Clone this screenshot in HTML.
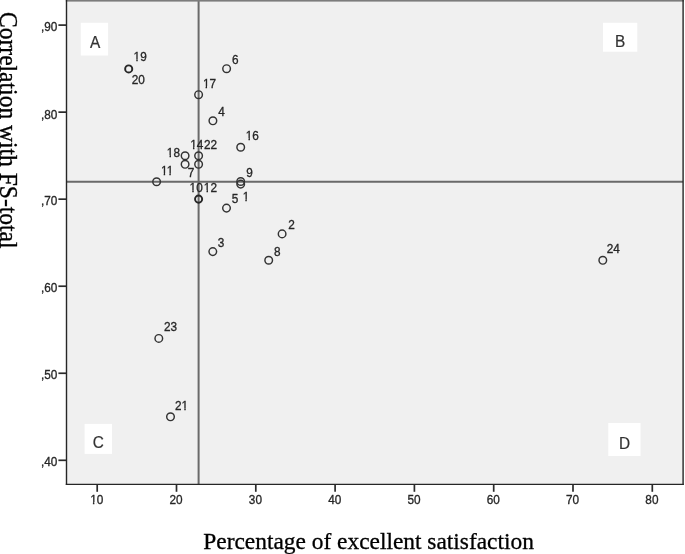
<!DOCTYPE html><html><head><meta charset="utf-8"><title>Scatter plot</title>
<style>html,body{margin:0;padding:0;background:#fff;}svg{display:block;will-change:transform;transform:translateZ(0)}.s{font-family:"Liberation Sans",Arial,sans-serif;font-size:11.8px;fill:#262626;stroke:#262626;stroke-width:0.3px}.q{font-family:"Liberation Sans",Arial,sans-serif;font-size:15.4px;fill:#333;stroke:#333;stroke-width:0.2px}.t{font-family:"Liberation Serif","Times New Roman",serif;fill:#000;stroke:#000;stroke-width:0.3px}</style></head><body>
<svg width="685" height="554" viewBox="0 0 685 554">
<rect x="0" y="0" width="685" height="554" fill="#fff"/>
<rect x="66" y="0" width="617.5" height="484.4" fill="#f0f0f0"/>
<rect x="80.8" y="22.8" width="27.3" height="32.7" fill="#fff"/>
<rect x="603.0" y="22.8" width="34.3" height="28.9" fill="#fff"/>
<rect x="84.6" y="423.9" width="27.4" height="30.0" fill="#fff"/>
<rect x="608.3" y="423.0" width="32.2" height="33.0" fill="#fff"/>
<line x1="198.6" y1="0" x2="198.6" y2="484" stroke="#6a6a6a" stroke-width="2"/>
<line x1="66" y1="181.7" x2="683" y2="181.7" stroke="#6a6a6a" stroke-width="2"/>
<rect x="65.8" y="0" width="618" height="1.6" fill="#7c7c7c"/>
<line x1="66.5" y1="0" x2="66.5" y2="485.05" stroke="#262626" stroke-width="1.4"/>
<line x1="65.8" y1="484.35" x2="683.8" y2="484.35" stroke="#262626" stroke-width="1.4"/>
<line x1="683.1" y1="0" x2="683.1" y2="485.05" stroke="#262626" stroke-width="1.4"/>
<line x1="58.4" y1="25.10" x2="66" y2="25.10" stroke="#2a2a2a" stroke-width="1.7"/>
<text class="s" transform="translate(57.4,31.20) scale(1,1.07)" text-anchor="end">,90</text>
<line x1="58.4" y1="112.14" x2="66" y2="112.14" stroke="#2a2a2a" stroke-width="1.7"/>
<text class="s" transform="translate(57.4,118.74) scale(1,1.07)" text-anchor="end">,80</text>
<line x1="58.4" y1="199.18" x2="66" y2="199.18" stroke="#2a2a2a" stroke-width="1.7"/>
<text class="s" transform="translate(57.4,205.28) scale(1,1.07)" text-anchor="end">,70</text>
<line x1="58.4" y1="286.22" x2="66" y2="286.22" stroke="#2a2a2a" stroke-width="1.7"/>
<text class="s" transform="translate(57.4,292.32) scale(1,1.07)" text-anchor="end">,60</text>
<line x1="58.4" y1="373.26" x2="66" y2="373.26" stroke="#2a2a2a" stroke-width="1.7"/>
<text class="s" transform="translate(57.4,379.36) scale(1,1.07)" text-anchor="end">,50</text>
<line x1="58.4" y1="460.30" x2="66" y2="460.30" stroke="#2a2a2a" stroke-width="1.7"/>
<text class="s" transform="translate(57.4,466.40) scale(1,1.07)" text-anchor="end">,40</text>
<line x1="97.20" y1="484.5" x2="97.20" y2="491.8" stroke="#2a2a2a" stroke-width="1.7"/>
<text class="s" transform="translate(96.80,504) scale(1,1.07)" text-anchor="middle">10</text>
<rect x="89.64" y="502" width="3.25" height="3" fill="#fff"/>
<rect x="94.39" y="502" width="2.40" height="3" fill="#fff"/>
<line x1="176.50" y1="484.5" x2="176.50" y2="491.8" stroke="#2a2a2a" stroke-width="1.7"/>
<text class="s" transform="translate(176.10,504) scale(1,1.07)" text-anchor="middle">20</text>
<line x1="255.80" y1="484.5" x2="255.80" y2="491.8" stroke="#2a2a2a" stroke-width="1.7"/>
<text class="s" transform="translate(255.40,504) scale(1,1.07)" text-anchor="middle">30</text>
<line x1="335.10" y1="484.5" x2="335.10" y2="491.8" stroke="#2a2a2a" stroke-width="1.7"/>
<text class="s" transform="translate(334.70,504) scale(1,1.07)" text-anchor="middle">40</text>
<line x1="414.40" y1="484.5" x2="414.40" y2="491.8" stroke="#2a2a2a" stroke-width="1.7"/>
<text class="s" transform="translate(414.00,504) scale(1,1.07)" text-anchor="middle">50</text>
<line x1="493.70" y1="484.5" x2="493.70" y2="491.8" stroke="#2a2a2a" stroke-width="1.7"/>
<text class="s" transform="translate(493.30,504) scale(1,1.07)" text-anchor="middle">60</text>
<line x1="573.00" y1="484.5" x2="573.00" y2="491.8" stroke="#2a2a2a" stroke-width="1.7"/>
<text class="s" transform="translate(572.60,504) scale(1,1.07)" text-anchor="middle">70</text>
<line x1="652.30" y1="484.5" x2="652.30" y2="491.8" stroke="#2a2a2a" stroke-width="1.7"/>
<text class="s" transform="translate(651.90,504) scale(1,1.07)" text-anchor="middle">80</text>
<circle cx="128.7" cy="68.9" r="3.55" fill="none" stroke="#262626" stroke-width="1.95"/>
<circle cx="226.6" cy="68.7" r="3.8" fill="none" stroke="#333" stroke-width="1.45"/>
<circle cx="198.6" cy="94.7" r="3.8" fill="none" stroke="#333" stroke-width="1.45"/>
<circle cx="212.9" cy="120.8" r="3.8" fill="none" stroke="#333" stroke-width="1.45"/>
<circle cx="240.7" cy="147.2" r="3.8" fill="none" stroke="#333" stroke-width="1.45"/>
<circle cx="198.6" cy="155.7" r="3.8" fill="none" stroke="#333" stroke-width="1.45"/>
<circle cx="198.6" cy="164.3" r="3.8" fill="none" stroke="#333" stroke-width="1.45"/>
<circle cx="185.1" cy="155.7" r="3.8" fill="none" stroke="#333" stroke-width="1.45"/>
<circle cx="185.1" cy="164.3" r="3.8" fill="none" stroke="#333" stroke-width="1.45"/>
<circle cx="156.6" cy="181.7" r="3.8" fill="none" stroke="#333" stroke-width="1.45"/>
<circle cx="240.7" cy="181.5" r="3.8" fill="none" stroke="#333" stroke-width="1.45"/>
<circle cx="240.7" cy="184.1" r="3.8" fill="none" stroke="#333" stroke-width="1.45"/>
<circle cx="198.6" cy="199.1" r="3.55" fill="none" stroke="#262626" stroke-width="1.95"/>
<circle cx="226.5" cy="208.1" r="3.8" fill="none" stroke="#333" stroke-width="1.45"/>
<circle cx="282.1" cy="233.9" r="3.8" fill="none" stroke="#333" stroke-width="1.45"/>
<circle cx="212.8" cy="251.6" r="3.8" fill="none" stroke="#333" stroke-width="1.45"/>
<circle cx="268.7" cy="260.2" r="3.8" fill="none" stroke="#333" stroke-width="1.45"/>
<circle cx="602.8" cy="260.3" r="3.8" fill="none" stroke="#333" stroke-width="1.45"/>
<circle cx="158.8" cy="338.4" r="3.8" fill="none" stroke="#333" stroke-width="1.45"/>
<circle cx="170.5" cy="416.8" r="3.8" fill="none" stroke="#333" stroke-width="1.45"/>
<text class="s" id="l19" transform="translate(133.60,61) scale(1,1.07)">19</text>
<rect x="133.00" y="59" width="3.25" height="3" fill="#f0f0f0"/>
<rect x="137.75" y="59" width="2.40" height="3" fill="#f0f0f0"/>
<text class="s" id="l20" transform="translate(131.65,84) scale(1,1.07)">20</text>
<text class="s" id="l17" transform="translate(202.90,88) scale(1,1.07)">17</text>
<rect x="202.30" y="86" width="3.25" height="3" fill="#f0f0f0"/>
<rect x="207.05" y="86" width="2.40" height="3" fill="#f0f0f0"/>
<text class="s" id="l6" transform="translate(231.90,64) scale(1,1.07)">6</text>
<text class="s" id="l4" transform="translate(218.35,116) scale(1,1.07)">4</text>
<text class="s" id="l16" transform="translate(245.80,140) scale(1,1.07)">16</text>
<rect x="245.20" y="138" width="3.25" height="3" fill="#f0f0f0"/>
<rect x="249.95" y="138" width="2.40" height="3" fill="#f0f0f0"/>
<text class="s" id="l14" transform="translate(190.30,149) scale(1,1.07)">14</text>
<rect x="189.70" y="147" width="3.25" height="3" fill="#f0f0f0"/>
<rect x="194.45" y="147" width="2.40" height="3" fill="#f0f0f0"/>
<text class="s" id="l22" transform="translate(203.90,149) scale(1,1.07)">22</text>
<text class="s" id="l18" transform="translate(166.85,157) scale(1,1.07)">18</text>
<rect x="166.25" y="155" width="3.25" height="3" fill="#f0f0f0"/>
<rect x="171.00" y="155" width="2.40" height="3" fill="#f0f0f0"/>
<text class="s" id="l7" transform="translate(187.75,177) scale(1,1.07)">7</text>
<text class="s" id="l11" transform="translate(161.00,175) scale(1,1.07)">11</text>
<rect x="160.40" y="173" width="3.25" height="3" fill="#f0f0f0"/>
<rect x="165.15" y="173" width="2.40" height="3" fill="#f0f0f0"/>
<rect x="166.06" y="173" width="3.25" height="3" fill="#f0f0f0"/>
<rect x="170.81" y="173" width="2.40" height="3" fill="#f0f0f0"/>
<text class="s" id="l9" transform="translate(246.20,177) scale(1,1.07)">9</text>
<text class="s" id="l10" transform="translate(189.60,192) scale(1,1.07)">10</text>
<rect x="189.00" y="190" width="3.25" height="3" fill="#f0f0f0"/>
<rect x="193.75" y="190" width="2.40" height="3" fill="#f0f0f0"/>
<text class="s" id="l12" transform="translate(203.85,192) scale(1,1.07)">12</text>
<rect x="203.25" y="190" width="3.25" height="3" fill="#f0f0f0"/>
<rect x="208.00" y="190" width="2.40" height="3" fill="#f0f0f0"/>
<text class="s" id="l5" transform="translate(231.70,203) scale(1,1.07)">5</text>
<text class="s" id="l1" transform="translate(242.65,201) scale(1,1.07)">1</text>
<rect x="242.05" y="199" width="3.25" height="3" fill="#f0f0f0"/>
<rect x="246.80" y="199" width="2.40" height="3" fill="#f0f0f0"/>
<text class="s" id="l2" transform="translate(288.15,229) scale(1,1.07)">2</text>
<text class="s" id="l3" transform="translate(217.80,247) scale(1,1.07)">3</text>
<text class="s" id="l8" transform="translate(273.90,256) scale(1,1.07)">8</text>
<text class="s" id="l24" transform="translate(606.80,253) scale(1,1.07)">24</text>
<text class="s" id="l23" transform="translate(163.90,331) scale(1,1.07)">23</text>
<text class="s" id="l21" transform="translate(175.05,410) scale(1,1.07)">21</text>
<rect x="181.01" y="408" width="3.25" height="3" fill="#f0f0f0"/>
<rect x="185.76" y="408" width="2.40" height="3" fill="#f0f0f0"/>
<text class="q" id="qA" transform="translate(95.15,47.90) scale(1,1.12)" text-anchor="middle">A</text>
<text class="q" id="qB" transform="translate(620.20,46.90) scale(1,1.12)" text-anchor="middle">B</text>
<text class="q" id="qC" transform="translate(98.40,447.90) scale(1,1.12)" text-anchor="middle">C</text>
<text class="q" id="qD" transform="translate(624.60,448.90) scale(1,1.12)" text-anchor="middle">D</text>
<text class="t" id="xt" x="203.3" y="548.6" font-size="23.4">Percentage of excellent satisfaction</text>
<text class="t" id="yt" font-size="23.55" transform="translate(-0.5,12.0) rotate(90) scale(1,1.05)">Correlation with FS-total</text>
</svg></body></html>
